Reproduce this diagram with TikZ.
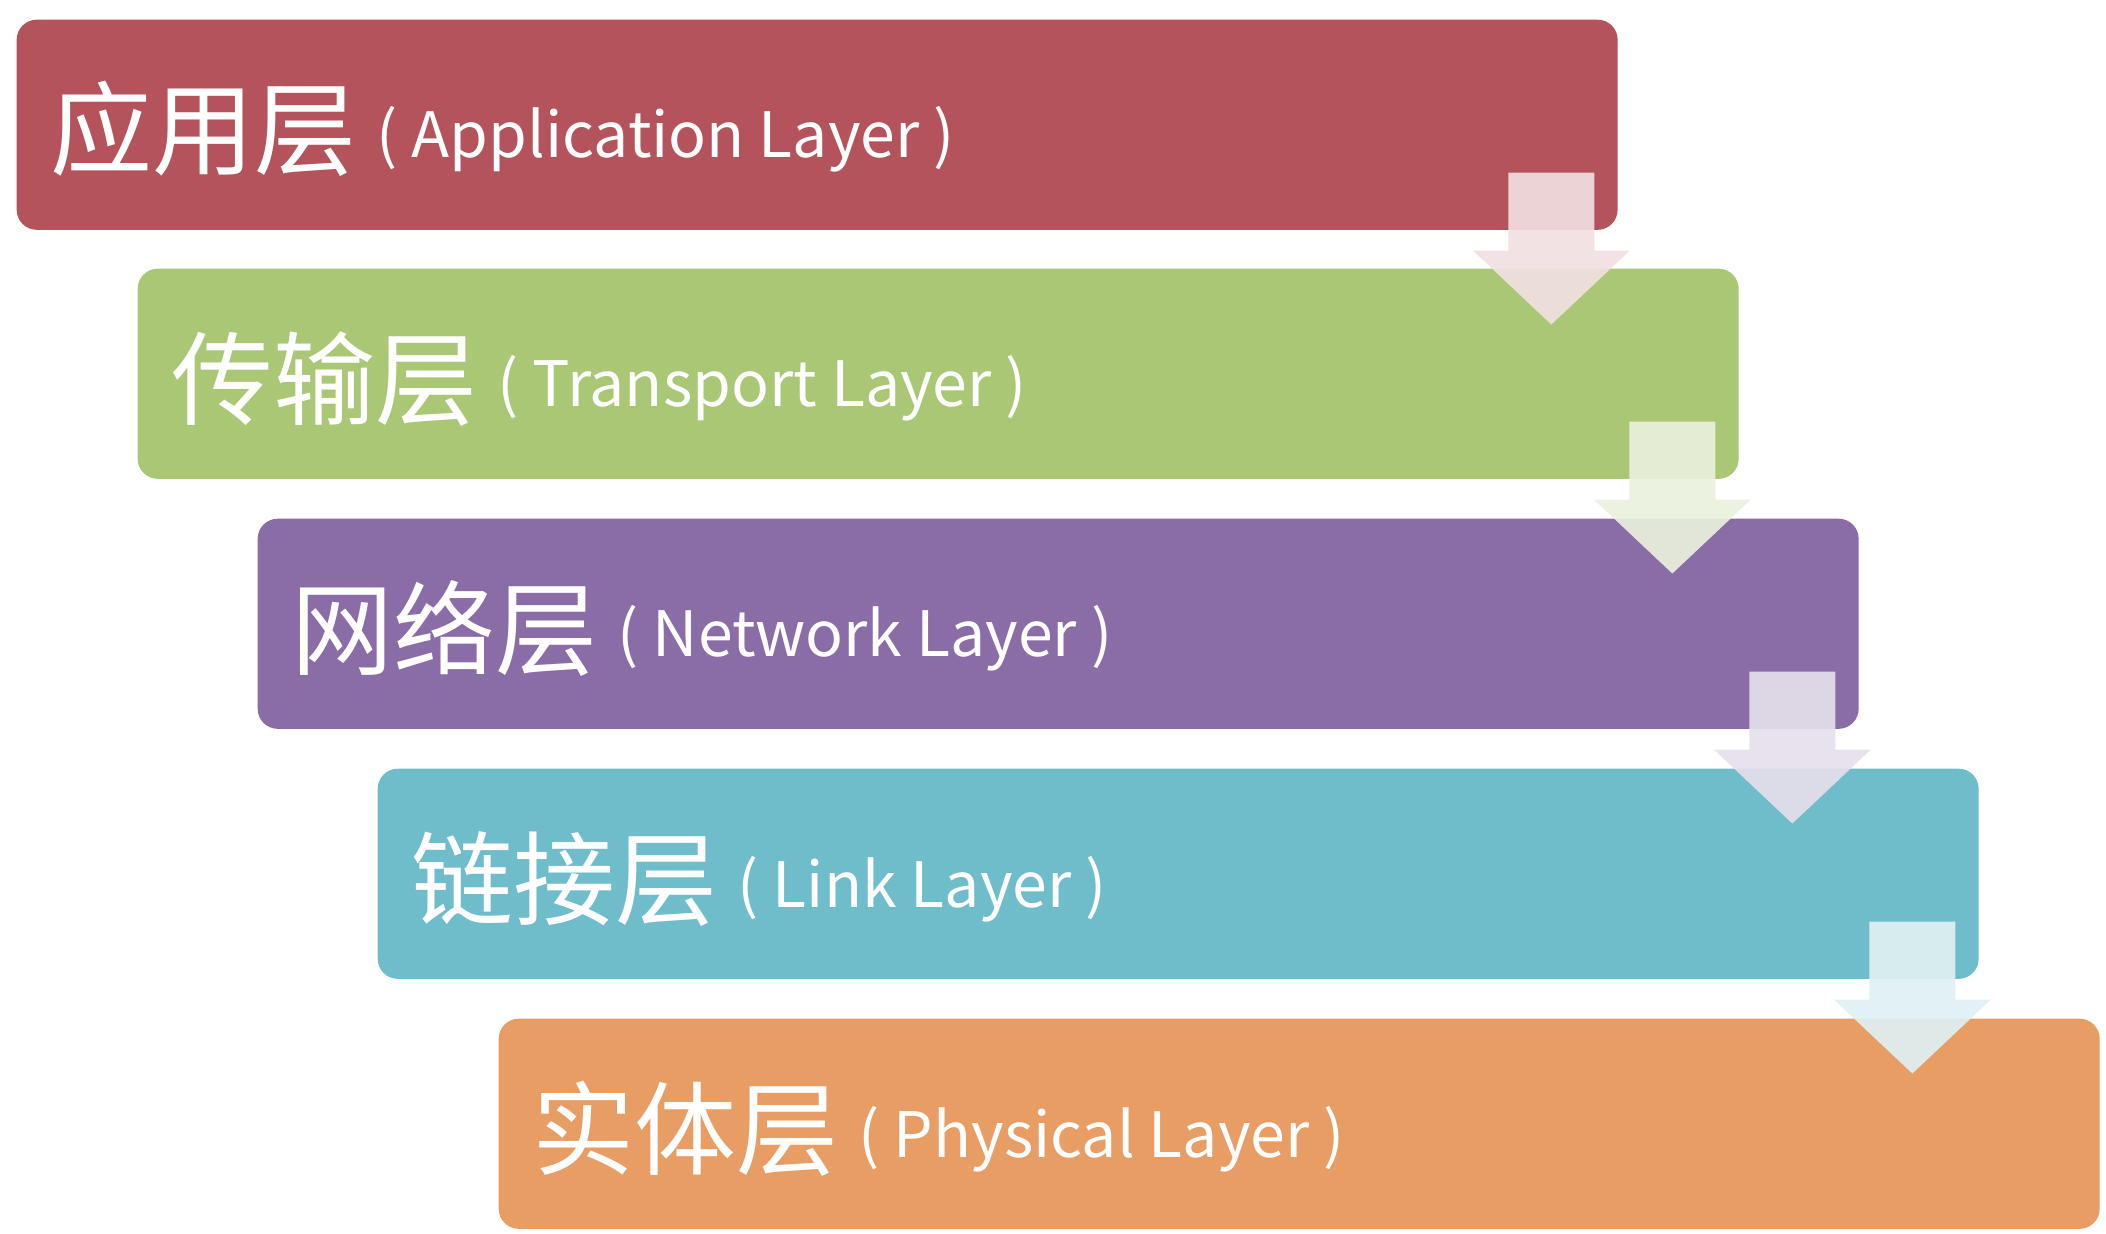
\documentclass[tikz,border=0pt]{standalone}
\usepackage{fontspec}
\newfontfamily\cjk{Noto Sans CJK SC}
\usetikzlibrary{calc}

\definecolor{appred}{HTML}{B4535B}
\definecolor{transgreen}{HTML}{AAC775}
\definecolor{netpurple}{HTML}{8A6DA6}
\definecolor{linkteal}{HTML}{6FBDCA}
\definecolor{physorange}{HTML}{E79D64}

\tikzset{
  layer/.style={anchor=north west, minimum width=16cm, minimum height=2.1cm,
    rounded corners=0.2cm, inner sep=0pt},
  layertext/.style={anchor=base west, text=white, inner sep=0pt},
  downarrow/.style={opacity=0.92}
}
\newcommand{\zh}[1]{\raisebox{-0.1cm}{\cjk\fontsize{29pt}{29pt}\selectfont #1}\hspace{0.2cm}}
\newcommand{\en}[1]{{\cjk\fontsize{17.8pt}{17.8pt}\selectfont #1}}

\begin{document}
\begin{tikzpicture}[x=0.01cm, y=-0.01cm]
  \useasboundingbox (0,0) rectangle (2106,1234);

  % the five layers
  \node[layer, fill=appred] (app) at (16,19) {};
  \node[layertext] (apptext) at ($(app.north west)+(34,139)$) {\zh{应用层}\en{( Application Layer )}};

  \node[layer, fill=transgreen] (trans) at (137,268) {};
  \node[layertext] (transtext) at ($(trans.north west)+(34,139)$) {\zh{传输层}\en{( Transport Layer )}};

  \node[layer, fill=netpurple] (net) at (257,518) {};
  \node[layertext] (nettext) at ($(net.north west)+(34,139)$) {\zh{网络层}\en{( Network Layer )}};

  \node[layer, fill=linkteal] (link) at (377,768) {};
  \node[layertext] (linktext) at ($(link.north west)+(34,139)$) {\zh{链接层}\en{( Link Layer )}};

  \node[layer, fill=physorange] (phys) at (498,1018) {};
  \node[layertext] (phystext) at ($(phys.north west)+(34,139)$) {\zh{实体层}\en{( Physical Layer )}};

  % arrows between layers
  \fill[downarrow, appred!18!white] ($(app.south east)+(-110,-58)$) -- ($(app.south east)+(-24,-58)$)
    -- ($(app.south east)+(-24,20)$) -- ($(app.south east)+(11.5,20)$) -- ($(app.south east)+(-67,94)$)
    -- ($(app.south east)+(-145.5,20)$) -- ($(app.south east)+(-110,20)$) -- cycle;
  \fill[downarrow, transgreen!25!white] ($(trans.south east)+(-110,-58)$) -- ($(trans.south east)+(-24,-58)$)
    -- ($(trans.south east)+(-24,20)$) -- ($(trans.south east)+(11.5,20)$) -- ($(trans.south east)+(-67,94)$)
    -- ($(trans.south east)+(-145.5,20)$) -- ($(trans.south east)+(-110,20)$) -- cycle;
  \fill[downarrow, netpurple!22!white] ($(net.south east)+(-110,-58)$) -- ($(net.south east)+(-24,-58)$)
    -- ($(net.south east)+(-24,20)$) -- ($(net.south east)+(11.5,20)$) -- ($(net.south east)+(-67,94)$)
    -- ($(net.south east)+(-145.5,20)$) -- ($(net.south east)+(-110,20)$) -- cycle;
  \fill[downarrow, linkteal!22!white] ($(link.south east)+(-110,-58)$) -- ($(link.south east)+(-24,-58)$)
    -- ($(link.south east)+(-24,20)$) -- ($(link.south east)+(11.5,20)$) -- ($(link.south east)+(-67,94)$)
    -- ($(link.south east)+(-145.5,20)$) -- ($(link.south east)+(-110,20)$) -- cycle;
\end{tikzpicture}
\end{document}
